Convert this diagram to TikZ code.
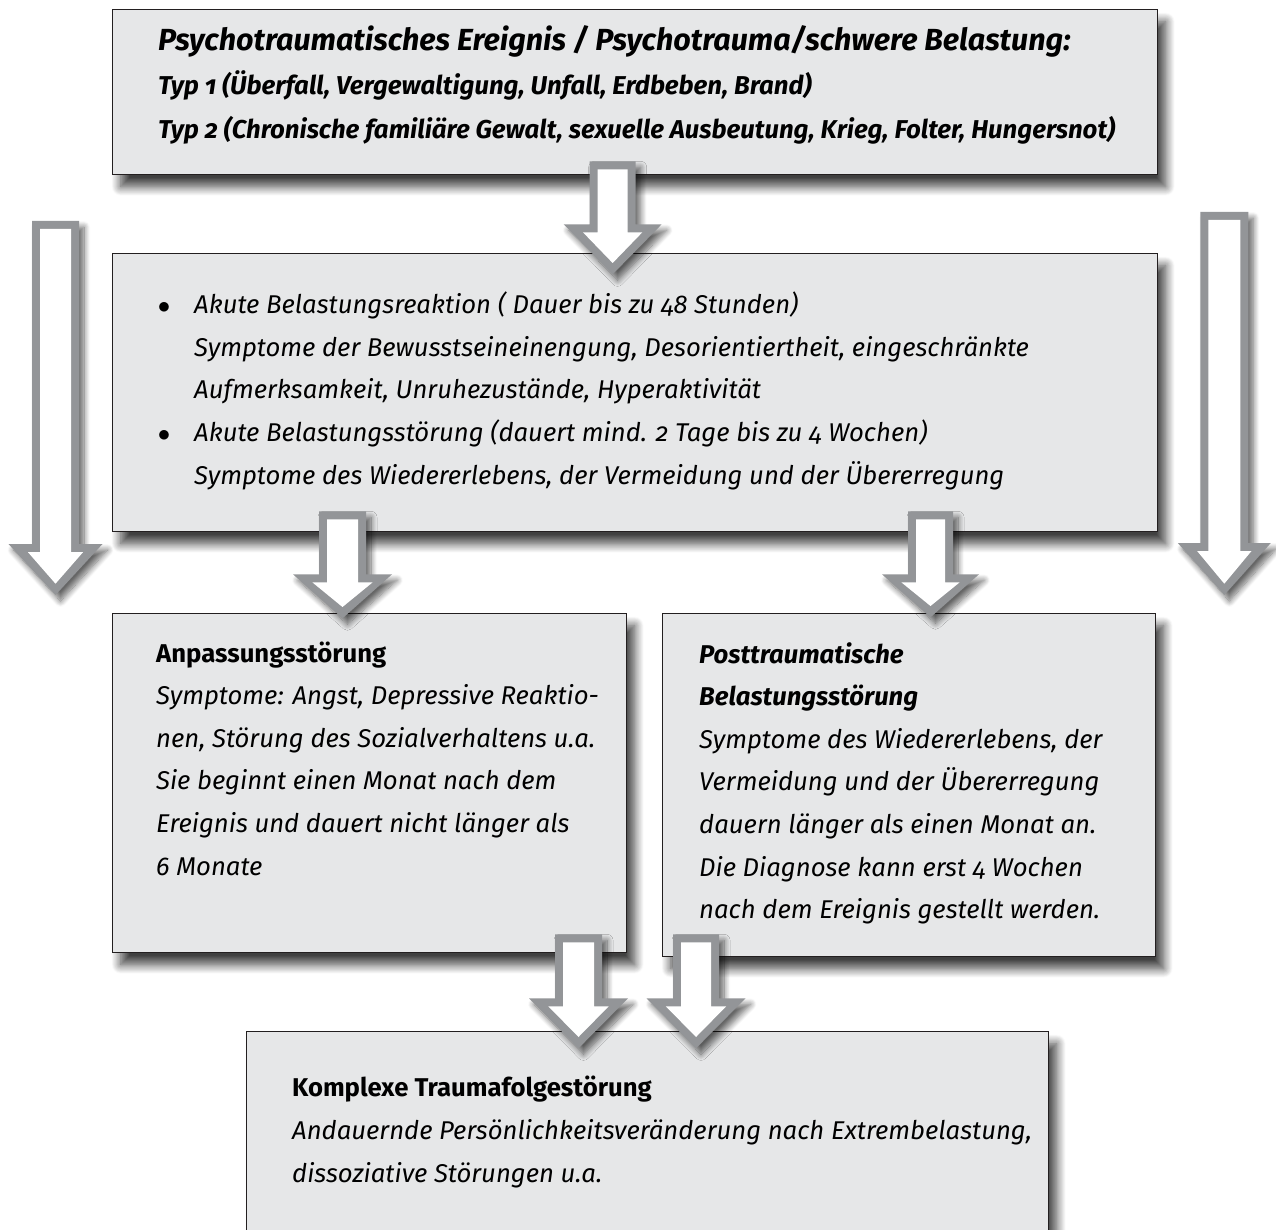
\documentclass[tikz,border=0pt]{standalone}
\usepackage{fontspec}
\setmainfont{Fira Sans}[Numbers=OldStyle]
\usetikzlibrary{calc,shadows.blur}

\definecolor{boxfill}{RGB}{230,231,232}
\definecolor{boxline}{RGB}{35,31,32}
\definecolor{arrowgray}{RGB}{147,149,152}

\newcommand\bodyfont{\fontsize{25.7}{42.6}\selectfont\itshape}
\newcommand\bul{\llap{$\bullet$\hspace{24pt}}}

\tikzset{
  box/.style={draw=boxline, line width=1.3pt, fill=boxfill, inner sep=0pt,
    anchor=north west,
    blur shadow={shadow xshift=8pt, shadow yshift=-12pt,
      shadow blur radius=9pt, shadow blur steps=12, shadow opacity=75}},
  % anchored at the baseline of the last line
  txt/.style={anchor=base west, align=left, inner sep=0pt, font=\bodyfont},
  % hollow block arrow: shaft half width, head half width, shaft length, head length
  pics/blockarrow/.style n args={4}{code={
    \fill[arrowgray, blur shadow={shadow xshift=5pt, shadow yshift=-6pt,
        shadow blur radius=6pt, shadow blur steps=10, shadow opacity=60}]
      (-#1,0) -- (#1,0) -- (#1,#3) -- (#2,#3) -- (0,#3+#4)
      -- (-#2,#3) -- (-#1,#3) -- cycle;
    \fill[white]
      (-#1+8,8) -- (#1-8,8) -- (#1-8,#3+8) -- (#2-19.3,#3+8) -- (0,#3+#4-11.3)
      -- (-#2+19.3,#3+8) -- (-#1+8,#3+8) -- cycle;
  }}
}

\begin{document}
\begin{tikzpicture}[x=1pt, y=-1pt]
    \useasboundingbox (0,0) rectangle (1276,1230);
    \clip (0,0) rectangle (1276,1230);

    % Boxes
    \node[box, minimum width=1045, minimum height=165] (event) at (112,9) {};
    \node[box, minimum width=1045, minimum height=278] (acute) at (112,253) {};
    \node[box, minimum width=514, minimum height=339] (adjust) at (112,613) {};
    \node[box, minimum width=493, minimum height=343] (ptsd) at (662,613) {};
    \node[box, minimum width=802, minimum height=250] (complex) at (246,1031) {};

    % Event text
    \node[txt, font=\fontsize{25.8}{44}\selectfont\bfseries\itshape] (eventtext)
        at ($(event.north west)+(46,130)$)
        {{\fontsize{30.5}{44}\selectfont Psychotraumatisches Ereignis / Psychotrauma/schwere Belastung:}\\
         Typ 1 (Überfall, Vergewaltigung, Unfall, Erdbeben, Brand)\\
         Typ 2 (Chronische familiäre Gewalt, sexuelle Ausbeutung, Krieg, Folter, Hungersnot)};

    % Acute reactions
    \node[txt] (acutetext) at ($(acute.north west)+(82,231)$)
        {\bul Akute Belastungsreaktion ( Dauer bis zu 48 Stunden)\\
         Symptome der Bewusstseineinengung, Desorientiertheit, eingeschränkte\\
         Aufmerksamkeit, Unruhezustände, Hyperaktivität\\
         \bul Akute Belastungsstörung (dauert mind. 2 Tage bis zu 4 Wochen)\\
         Symptome des Wiedererlebens, der Vermeidung und der Übererregung};

    % Adjustment disorder
    \node[txt] (adjusttext) at ($(adjust.north west)+(44,262)$)
        {{\upshape\bfseries Anpassungsstörung}\\
         Symptome: Angst, Depressive Reaktio-\\
         nen, Störung des Sozialverhaltens u.a.\\
         Sie beginnt einen Monat nach dem\\
         Ereignis und dauert nicht länger als\\
         6 Monate};

    % PTSD
    \node[txt] (ptsdtext) at ($(ptsd.north west)+(37,305.6)$)
        {{\bfseries Posttraumatische}\\
         {\bfseries Belastungsstörung}\\
         Symptome des Wiedererlebens, der\\
         Vermeidung und der Übererregung\\
         dauern länger als einen Monat an.\\
         Die Diagnose kann erst 4 Wochen\\
         nach dem Ereignis gestellt werden.};

    % Complex disorder
    \node[txt] (complextext) at ($(complex.north west)+(46,151)$)
        {{\upshape\bfseries Komplexe Traumafolgestörung}\\
         Andauernde Persönlichkeitsveränderung nach Extrembelastung,\\
         dissoziative Störungen u.a.};

    % Block arrows between the boxes
    \pic at ($(event.south)+(-22.5,-14)$) {blockarrow={23}{49}{63}{50}};
    \pic at ($(acute.south west)+(230.5,-21)$) {blockarrow={23.5}{49.5}{63}{44}};
    \pic at ($(acute.south west)+(818.5,-21)$) {blockarrow={22.5}{48.5}{63}{43}};
    \pic at ($(adjust.south west)+(466.5,-19)$) {blockarrow={23.5}{49.5}{64}{50}};
    \pic at ($(ptsd.south west)+(34,-23)$) {blockarrow={23}{49.5}{64}{50}};

    % Long arrows at the sides
    \pic at ($(acute.north west)+(-56.5,-32)$) {blockarrow={23.5}{47}{323}{51}};
    \pic at ($(acute.north east)+(66,-41)$) {blockarrow={24}{46.5}{331}{52}};
\end{tikzpicture}
\end{document}
